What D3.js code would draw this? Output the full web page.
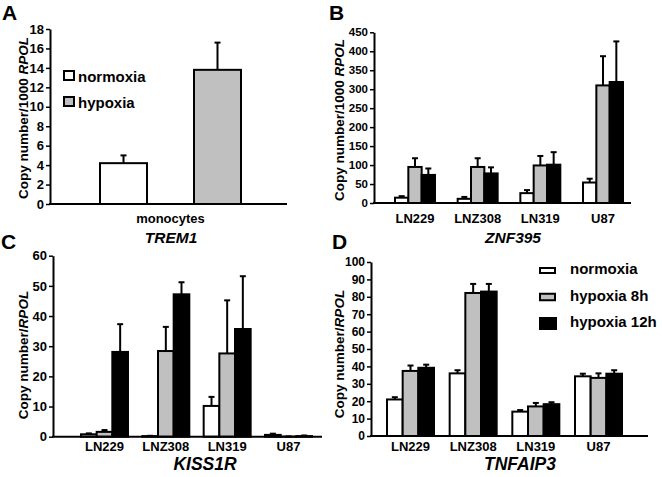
<!DOCTYPE html>
<html><head><meta charset="utf-8">
<script src="https://cdn.jsdelivr.net/npm/d3@7"></script>
<style>
body{margin:0;background:#fff}
svg{display:block}
text{font-family:"Liberation Sans",Arial,Helvetica,sans-serif;font-weight:bold;fill:#000}
</style>
</head><body>
<svg id="chart" width="662" height="477"></svg>
<script>
// ---------- DATA ----------
const seriesNames = ["normoxia", "hypoxia 8h", "hypoxia 12h"];
const seriesColors = ["#ffffff", "#c0c0c0", "#000000"];
const cellLines = ["LN229", "LNZ308", "LN319", "U87"];

// Panel A - TREM1
const trem1Groups = ["monocytes"];
const trem1Series = ["normoxia", "hypoxia"];
const trem1Colors = ["#ffffff", "#c0c0c0"];
const trem1Mean = [4.2, 13.8];
const trem1Err = [0.8, 2.8];
const trem1Ticks = [0, 2, 4, 6, 8, 10, 12, 14, 16, 18];

// Panel B - ZNF395
const znf395Normoxia = [14, 11, 26, 54];
const znf395Hypoxia8 = [95, 95, 99, 310];
const znf395Hypoxia12 = [74, 78, 101, 319];
const znf395NormoxiaErr = [4, 5, 8, 10];
const znf395Hypoxia8Err = [23, 23, 25, 77];
const znf395Hypoxia12Err = [17, 16, 33, 107];
const znf395Ticks = [0, 50, 100, 150, 200, 250, 300, 350, 400, 450];

// Panel C - KISS1R
const kiss1rNormoxia = [0.8, 0.2, 10.2, 0.6];
const kiss1rHypoxia8 = [1.6, 28.4, 27.6, 0.05];
const kiss1rHypoxia12 = [28.1, 47.2, 35.7, 0.2];
const kiss1rNormoxiaErr = [0.3, 0.1, 3, 0.4];
const kiss1rHypoxia8Err = [0.6, 8, 17.6, 0.05];
const kiss1rHypoxia12Err = [9.2, 4, 17.5, 0.2];
const kiss1rTicks = [0, 10, 20, 30, 40, 50, 60];

// Panel D - TNFAIP3
const tnfaip3Normoxia = [21, 36, 14, 34.3];
const tnfaip3Hypoxia8 = [37.4, 82.2, 17, 33.4];
const tnfaip3Hypoxia12 = [39.2, 83, 18.3, 35.8];
const tnfaip3NormoxiaErr = [1.3, 1.8, 0.9, 1.5];
const tnfaip3Hypoxia8Err = [3.1, 5.2, 2, 2.6];
const tnfaip3Hypoxia12Err = [1.8, 4.4, 1.1, 2];
const tnfaip3Ticks = [0, 10, 20, 30, 40, 50, 60, 70, 80, 90, 100];

// ---------- DRAWING ----------
const svg = d3.select("#chart");

function drawPanel(o) {
  const g = svg.append("g");
  const y = d3.scaleLinear().domain([o.yTicks[0], o.yTicks[o.yTicks.length - 1]]).range(o.yRange);
  const x0 = d3.scaleBand().domain(o.groups).range(o.bandRange).paddingInner(o.padOuterGroups).paddingOuter(0);
  const x1 = d3.scaleBand().domain(o.series).range([0, x0.bandwidth()]).paddingInner(o.padInner).paddingOuter(0);
  const y0 = y(0);

  o.series.forEach((s, si) => {
    const gs = g.append("g");
    gs.selectAll("rect").data(o.groups).join("rect")
      .attr("x", d => x0(d) + x1(s))
      .attr("y", (d, gi) => y(o.means[si][gi]))
      .attr("width", x1.bandwidth())
      .attr("height", (d, gi) => y0 - y(o.means[si][gi]))
      .attr("fill", o.colors[si])
      .attr("stroke", "#000").attr("stroke-width", 2);
    gs.selectAll("line.err").data(o.groups).join("line").attr("class", "err")
      .attr("x1", d => x0(d) + x1(s) + x1.bandwidth() / 2)
      .attr("x2", d => x0(d) + x1(s) + x1.bandwidth() / 2)
      .attr("y1", (d, gi) => y(o.means[si][gi]))
      .attr("y2", (d, gi) => y(o.means[si][gi] + o.errs[si][gi]))
      .attr("stroke", "#000").attr("stroke-width", 2);
    gs.selectAll("line.cap").data(o.groups).join("line").attr("class", "cap")
      .attr("x1", d => x0(d) + x1(s) + x1.bandwidth() / 2 - 3)
      .attr("x2", d => x0(d) + x1(s) + x1.bandwidth() / 2 + 3)
      .attr("y1", (d, gi) => y(o.means[si][gi] + o.errs[si][gi]))
      .attr("y2", (d, gi) => y(o.means[si][gi] + o.errs[si][gi]))
      .attr("stroke", "#000").attr("stroke-width", 2);
  });

  const ax = g.append("g").attr("transform", `translate(${o.axisX},0)`)
    .call(d3.axisLeft(y).tickValues(o.yTicks).tickSize(4).tickSizeOuter(0).tickPadding(2).tickFormat(d3.format("d")));
  ax.select(".domain").attr("stroke", "#000").attr("stroke-width", 2);
  ax.selectAll(".tick line").attr("stroke", "#000").attr("stroke-width", 1.5);
  ax.selectAll(".tick text").attr("font-size", o.tickFont).attr("font-family", null).attr("fill", "#000");

  g.append("line").attr("x1", o.axisX - 1).attr("x2", o.axisEnd).attr("y1", y0).attr("y2", y0)
    .attr("stroke", "#000").attr("stroke-width", 2);

  g.selectAll("text.cat").data(o.groups).join("text").attr("class", "cat")
    .attr("x", d => x0(d) + x0.bandwidth() / 2).attr("y", o.catBaseline)
    .attr("text-anchor", "middle").attr("font-size", 13).text(d => d);

  g.append("text").attr("x", o.titlePos[0]).attr("y", o.titlePos[1])
    .attr("text-anchor", "middle").attr("font-size", o.titleSize).attr("font-style", "italic").text(o.title);

  const yl = g.append("text").attr("transform", `translate(${o.yLabelPos[0]},${o.yLabelPos[1]}) rotate(-90)`)
    .attr("text-anchor", "middle").attr("font-size", 13.5);
  yl.append("tspan").text(o.yLabel);
  yl.append("tspan").attr("font-style", "italic").text("RPOL");

  svg.append("text").attr("x", o.letterPos[0]).attr("y", o.letterPos[1]).attr("font-size", 21).text(o.letter);
}

drawPanel({
  groups: trem1Groups, series: trem1Series, colors: trem1Colors,
  means: trem1Series.map((s, i) => [trem1Mean[i]]), errs: trem1Series.map((s, i) => [trem1Err[i]]),
  yTicks: trem1Ticks, yRange: [204, 29], axisX: 50, axisEnd: 287,
  bandRange: [100, 241], padOuterGroups: 0, padInner: 0.5, tickFont: 13,
  catBaseline: 223, title: "TREM1", titlePos: [171, 243], titleSize: 15.5,
  yLabel: "Copy number/1000 ", yLabelPos: [28, 118], letter: "A", letterPos: [2, 20]
});

drawPanel({
  groups: cellLines, series: seriesNames, colors: seriesColors,
  means: [znf395Normoxia, znf395Hypoxia8, znf395Hypoxia12],
  errs: [znf395NormoxiaErr, znf395Hypoxia8Err, znf395Hypoxia12Err],
  yTicks: znf395Ticks, yRange: [203, 32.3], axisX: 374, axisEnd: 631,
  bandRange: [395, 623], padOuterGroups: 0.362, padInner: 0, tickFont: 11.5,
  catBaseline: 223, title: "ZNF395", titlePos: [513, 243], titleSize: 15.5,
  yLabel: "Copy number/1000 ", yLabelPos: [344, 120], letter: "B", letterPos: [329, 20]
});

drawPanel({
  groups: cellLines, series: seriesNames, colors: seriesColors,
  means: [kiss1rNormoxia, kiss1rHypoxia8, kiss1rHypoxia12],
  errs: [kiss1rNormoxiaErr, kiss1rHypoxia8Err, kiss1rHypoxia12Err],
  yTicks: kiss1rTicks, yRange: [436.7, 255.7], axisX: 53, axisEnd: 322,
  bandRange: [81, 312], padOuterGroups: 0.234, padInner: 0, tickFont: 13,
  catBaseline: 451, title: "KISS1R", titlePos: [205, 470], titleSize: 17.5,
  yLabel: "Copy number/", yLabelPos: [28, 355], letter: "C", letterPos: [1, 249]
});

drawPanel({
  groups: cellLines, series: seriesNames, colors: seriesColors,
  means: [tnfaip3Normoxia, tnfaip3Hypoxia8, tnfaip3Hypoxia12],
  errs: [tnfaip3NormoxiaErr, tnfaip3Hypoxia8Err, tnfaip3Hypoxia12Err],
  yTicks: tnfaip3Ticks, yRange: [436, 262], axisX: 371, axisEnd: 648,
  bandRange: [387, 622], padOuterGroups: 0.25, padInner: 0, tickFont: 12,
  catBaseline: 451, title: "TNFAIP3", titlePos: [520, 470], titleSize: 17.5,
  yLabel: "Copy number/", yLabelPos: [344, 354], letter: "D", letterPos: [332, 249]
});

// legend A
const legA = svg.append("g");
trem1Series.forEach((s, i) => {
  const by = 81.5 + i * 26;
  legA.append("rect").attr("x", 64).attr("y", by - 10.5).attr("width", 10).attr("height", 9)
    .attr("fill", trem1Colors[i]).attr("stroke", "#000").attr("stroke-width", 2);
  legA.append("text").attr("x", 78).attr("y", by).attr("font-size", 15).text(s);
});

// legend D
const legD = svg.append("g");
const keyH = [5, 6.5, 11], keyW = [15, 15, 16];
seriesNames.forEach((s, i) => {
  const by = 274 + i * 26.5;
  legD.append("rect").attr("x", 540).attr("y", by - 3.5 - keyH[i] / 2).attr("width", keyW[i]).attr("height", keyH[i])
    .attr("fill", seriesColors[i]).attr("stroke", "#000").attr("stroke-width", 2);
  legD.append("text").attr("x", 570).attr("y", by).attr("font-size", 15).text(s);
});
</script>
</body></html>
